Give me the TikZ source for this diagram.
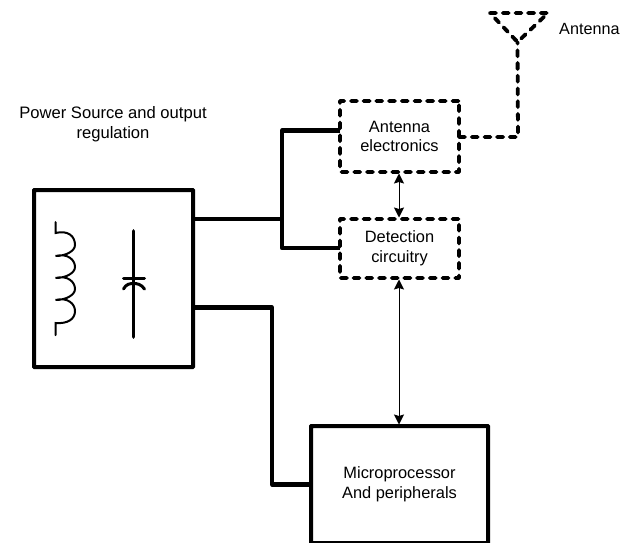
\documentclass[tikz,border=0pt]{standalone}
\usepackage{fontspec}
\setmainfont{Liberation Sans}
\usetikzlibrary{arrows.meta}
\tikzset{
  solidbox/.style={draw=black,line width=4pt,rectangle,outer sep=0pt,inner sep=0pt,align=center,font=\fontsize{16.4}{19.7}\selectfont,rounded corners=0.5pt},
  dashbox/.style={solidbox,line width=3.8pt,line cap=round,dash pattern=on 6pt off 6.7pt},
  wire/.style={line width=4.2pt,line join=round},
  branch/.style={line width=3.6pt},
  dashwire/.style={line width=3.8pt,line cap=round,dash pattern=on 6pt off 6.7pt},
  sig/.style={line width=1pt,{Stealth[length=10pt,width=10pt,inset=1.5pt]}-{Stealth[length=10pt,width=10pt,inset=1.5pt]},shorten <=1.5pt,shorten >=1.5pt},
  lbl/.style={align=center,inner sep=0pt,font=\fontsize{16.6}{19.7}\selectfont},
  sym/.style={line width=2pt,line cap=round}
}
\begin{document}
\begin{tikzpicture}[x=1pt,y=-1pt]
\useasboundingbox (0,0) rectangle (627,543);
\node[lbl] (title) at (113,124) {Power Source and output\\regulation};
\node[lbl,anchor=west,font=\fontsize{16.2}{19.7}\selectfont] (antlabel) at (559,29) {Antenna};
\node[solidbox,minimum width=159pt,minimum height=177pt] (power) at (113.5,278.5) {};
\node[dashbox,minimum width=119pt,minimum height=71pt] (ae) at (399.5,136.5) {Antenna\\electronics};
\node[dashbox,minimum width=119pt,minimum height=59pt] (dc) at (399.5,248.5) {Detection\\circuitry};
\node[solidbox,minimum width=177pt,minimum height=117pt] (mp) at (399.5,484.5) {Microprocessor\\And peripherals};
% antenna
\coordinate (t1) at (490,13);
\coordinate (t2) at (548,13);
\coordinate (tip) at (517.5,42);
\coordinate (j1) at (282,219);
\coordinate (j2) at (272,307.5);
\draw[dashwire] (t1) -- (t2) -- (tip) -- cycle;
\draw[dashwire] (ae.east |- 0,137) -- (518,137) -- (tip);
% power wires
\draw[branch] (power.east |- j1) -- (j1);
\draw[wire] (ae.west |- 0,130.5) -- (282,130.5) -- (282,248) -- (dc.west |- 0,248);
\draw[wire] (power.east |- j2) -- (j2) -- (272,484.5) -- (mp.west |- 0,484.5);
% signals
\draw[sig] (ae.south -| 399,0) -- (dc.north -| 399,0);
\draw[sig] (dc.south -| 399,0) -- (mp.north -| 399,0);
% inductor
\draw[sym] (55.5,222) -- (55.5,233)
  .. controls (68,230) and (75,236) .. (75,245) .. controls (75,251) and (66,256) .. (55.5,256)
  .. controls (68,253) and (75,260) .. (75,267) .. controls (75,273) and (66,278) .. (55.5,278)
  .. controls (68,275) and (75,282) .. (75,289) .. controls (75,295) and (66,300) .. (55.5,300)
  .. controls (68,297) and (75,304) .. (75,311) .. controls (75,319) and (68,324) .. (55.5,323)
  -- (55.5,335);
% capacitor
\draw[line width=3.8pt,line cap=round] (133.5,231) -- (133.5,337);
\draw[line width=3pt,line cap=round] (123.5,278.5) -- (144.5,278.5);
\draw[line width=3pt,line cap=round] (123.5,289) .. controls (126,284) and (130,283.5) .. (133.5,283.5) .. controls (137,283.5) and (141,284) .. (144.5,289);
\end{tikzpicture}
\end{document}
